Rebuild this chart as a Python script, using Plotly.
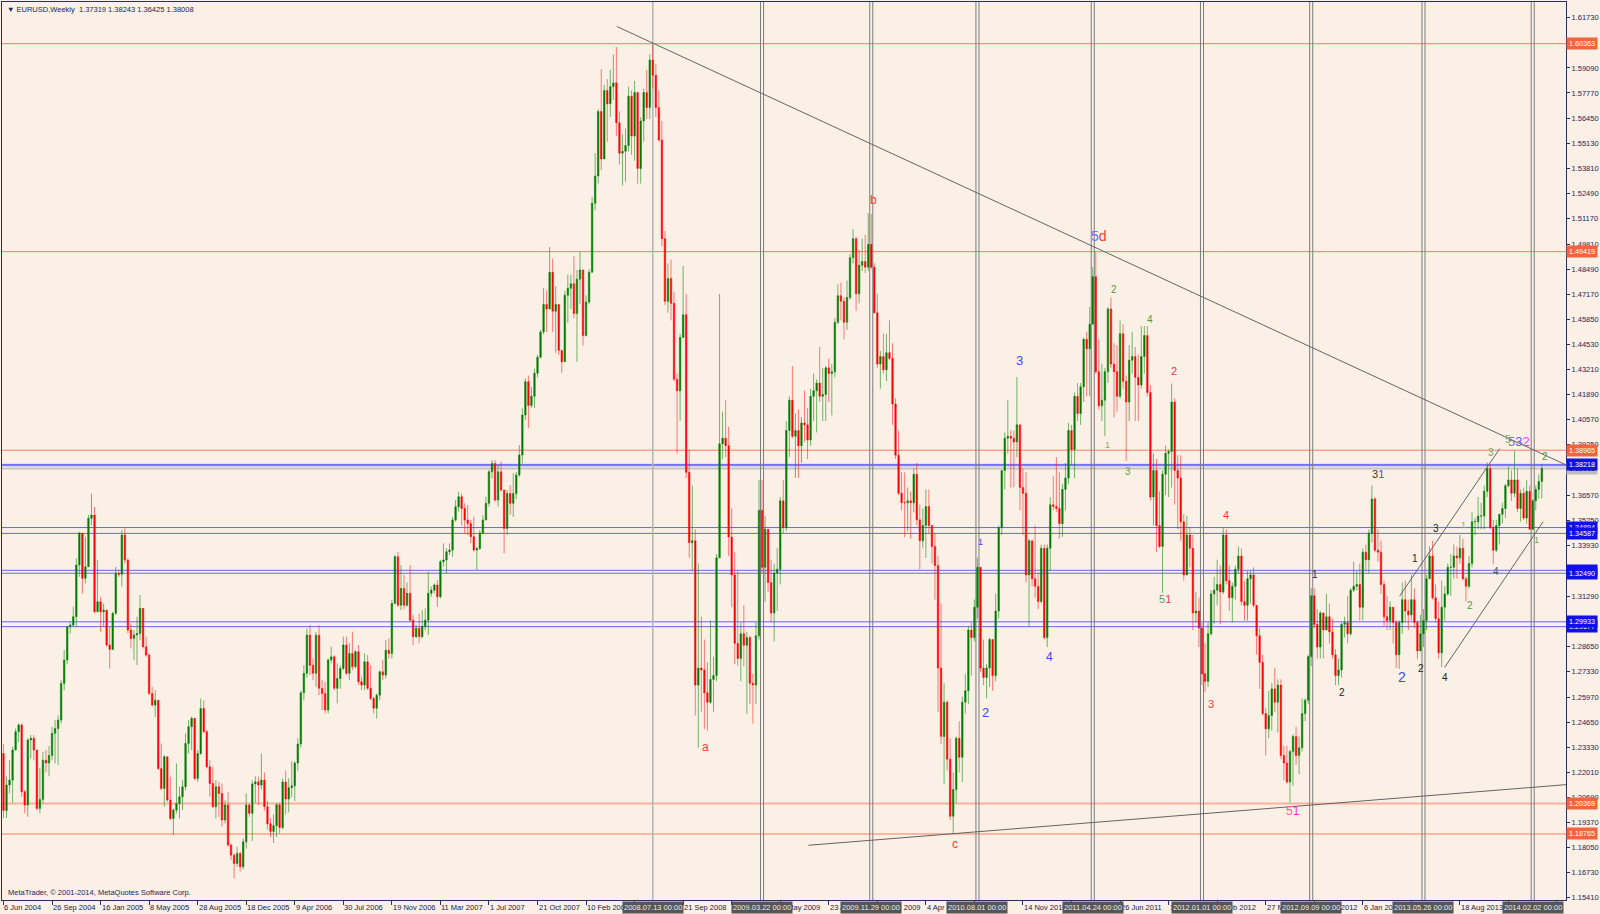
import datetime as dt
import plotly.graph_objects as go

HEADER = "\u25bc EURUSD,Weekly  1.37319 1.38243 1.36425 1.38008"
FOOTER = "MetaTrader, \u00a9 2001-2014, MetaQuotes Software Corp."

first_open = 1.2300

# weekly bars as (close, high, low); each block starts on the Sunday given
y2004_start = "2004-06-06"
y2004 = [
    (1.2000, 1.2350, 1.1960), (1.2134, 1.2178, 1.1960), (1.2160, 1.2265, 1.2090), (1.2318, 1.2336, 1.2040),
    (1.2415, 1.2432, 1.2318), (1.2450, 1.2459, 1.2360), (1.2099, 1.2459, 1.2072), (1.2029, 1.2107, 1.1985),
    (1.2371, 1.2380, 1.1967), (1.2380, 1.2397, 1.2274), (1.2318, 1.2397, 1.2265), (1.2011, 1.2318, 1.2002),
    (1.2058, 1.2222, 1.1985), (1.2265, 1.2309, 1.2037), (1.2250, 1.2320, 1.2200), (1.2290, 1.2340, 1.2180),
    (1.2406, 1.2440, 1.2265), (1.2432, 1.2476, 1.2248), (1.2476, 1.2500, 1.2240), (1.2669, 1.2687, 1.2459),
    (1.2792, 1.2845, 1.2634), (1.2968, 1.2968, 1.2770), (1.2976, 1.2993, 1.2932), (1.3020, 1.3073, 1.2968),
    (1.3292, 1.3327, 1.2968), (1.3459, 1.3468, 1.3230), (1.3222, 1.3450, 1.3143), (1.3283, 1.3441, 1.3195),
    (1.3538, 1.3555, 1.3283), (1.3555, 1.3667, 1.3503),
]
y2005_start = "2005-01-02"
y2005 = [
    (1.3046, 1.3598, 1.3038), (1.3099, 1.3318, 1.3046), (1.3046, 1.3125, 1.2940), (1.3055, 1.3090, 1.2968),
    (1.2871, 1.3038, 1.2862), (1.2848, 1.2968, 1.2747), (1.3038, 1.3046, 1.2845), (1.3248, 1.3283, 1.3029),
    (1.3243, 1.3266, 1.3230), (1.3450, 1.3476, 1.3178), (1.3318, 1.3485, 1.3301), (1.2950, 1.3327, 1.2932),
    (1.2906, 1.2985, 1.2853), (1.2924, 1.2950, 1.2792), (1.2932, 1.3020, 1.2765), (1.3064, 1.3134, 1.2897),
    (1.2862, 1.3064, 1.2853), (1.2818, 1.2915, 1.2809), (1.2616, 1.2827, 1.2607), (1.2555, 1.2651, 1.2546),
    (1.2581, 1.2634, 1.2493), (1.2221, 1.2537, 1.2213), (1.2116, 1.2353, 1.2107), (1.2283, 1.2292, 1.2020),
    (1.2055, 1.2257, 1.2046), (1.1958, 1.2178, 1.1950), (1.2002, 1.2011, 1.1870), (1.2037, 1.2248, 1.1985),
    (1.2072, 1.2125, 1.1958), (1.2125, 1.2160, 1.2002), (1.2353, 1.2406, 1.2107), (1.2441, 1.2476, 1.2300),
    (1.2485, 1.2494, 1.2318), (1.2169, 1.2485, 1.2160), (1.2300, 1.2318, 1.2151), (1.2537, 1.2590, 1.2292),
    (1.2415, 1.2581, 1.2406), (1.2230, 1.2423, 1.2221), (1.2142, 1.2265, 1.2072), (1.2020, 1.2230, 1.2011),
    (1.2125, 1.2160, 1.1958), (1.2090, 1.2151, 1.1967), (1.1950, 1.2142, 1.1915), (1.2029, 1.2055, 1.1932),
    (1.1818, 1.2099, 1.1809), (1.1765, 1.1827, 1.1739), (1.1721, 1.1774, 1.1642), (1.1774, 1.1809, 1.1704),
    (1.1704, 1.1783, 1.1678), (1.1835, 1.1853, 1.1690), (1.2029, 1.2090, 1.1800), (1.1985, 1.2037, 1.1967),
]
y2006_start = "2006-01-01"
y2006 = [
    (1.2140, 1.2160, 1.1840), (1.2151, 1.2180, 1.2040), (1.2134, 1.2178, 1.2030), (1.2160, 1.2300, 1.2110),
    (1.2020, 1.2200, 1.2000), (1.1930, 1.2050, 1.1900), (1.1890, 1.1960, 1.1860), (1.1920, 1.1980, 1.1830),
    (1.2030, 1.2040, 1.1860), (1.1910, 1.2040, 1.1880), (1.2150, 1.2170, 1.1900), (1.2060, 1.2210, 1.1980),
    (1.2120, 1.2170, 1.1990), (1.2130, 1.2260, 1.2070), (1.2250, 1.2260, 1.2050), (1.2350, 1.2380, 1.2210),
    (1.2620, 1.2630, 1.2330), (1.2722, 1.2765, 1.2580), (1.2923, 1.2958, 1.2700), (1.2765, 1.2976, 1.2713),
    (1.2722, 1.2800, 1.2686), (1.2923, 1.2941, 1.2651), (1.2643, 1.2976, 1.2607), (1.2616, 1.2686, 1.2529),
    (1.2529, 1.2678, 1.2511), (1.2792, 1.2800, 1.2511), (1.2809, 1.2862, 1.2774), (1.2643, 1.2818, 1.2634),
    (1.2695, 1.2774, 1.2564), (1.2748, 1.2765, 1.2640), (1.2871, 1.2915, 1.2739), (1.2722, 1.2915, 1.2713),
    (1.2827, 1.2880, 1.2686), (1.2757, 1.2941, 1.2739), (1.2836, 1.2844, 1.2748), (1.2678, 1.2871, 1.2660),
    (1.2660, 1.2704, 1.2634), (1.2783, 1.2827, 1.2634), (1.2643, 1.2818, 1.2634), (1.2590, 1.2765, 1.2581),
    (1.2538, 1.2599, 1.2511), (1.2607, 1.2616, 1.2484), (1.2730, 1.2739, 1.2581), (1.2713, 1.2792, 1.2686),
    (1.2844, 1.2897, 1.2695), (1.2827, 1.2906, 1.2800), (1.3090, 1.3108, 1.2800), (1.3336, 1.3345, 1.3090),
    (1.3081, 1.3362, 1.3072), (1.3169, 1.3292, 1.3055), (1.3081, 1.3240, 1.3060), (1.3143, 1.3200, 1.3072),
    (1.3002, 1.3292, 1.2994),
]
y2007_start = "2007-01-07"
y2007 = [
    (1.2915, 1.3028, 1.2871), (1.2959, 1.2976, 1.2906), (1.2915, 1.3037, 1.2880), (1.2968, 1.3055, 1.2906),
    (1.3002, 1.3064, 1.2950), (1.3143, 1.3257, 1.2923), (1.3160, 1.3178, 1.3125), (1.3187, 1.3196, 1.3143),
    (1.3125, 1.3213, 1.3072), (1.3310, 1.3319, 1.3116), (1.3319, 1.3406, 1.3284), (1.3362, 1.3380, 1.3250),
    (1.3371, 1.3406, 1.3345), (1.3529, 1.3546, 1.3336), (1.3599, 1.3634, 1.3520), (1.3652, 1.3678, 1.3573),
    (1.3590, 1.3669, 1.3500), (1.3529, 1.3617, 1.3459), (1.3511, 1.3608, 1.3450), (1.3441, 1.3529, 1.3406),
    (1.3371, 1.3546, 1.3362), (1.3379, 1.3388, 1.3266), (1.3459, 1.3476, 1.3371), (1.3529, 1.3555, 1.3459),
    (1.3617, 1.3652, 1.3529), (1.3783, 1.3792, 1.3599), (1.3827, 1.3845, 1.3748), (1.3634, 1.3845, 1.3625),
    (1.3783, 1.3818, 1.3599), (1.3687, 1.3836, 1.3678), (1.3485, 1.3687, 1.3353), (1.3669, 1.3687, 1.3450),
    (1.3617, 1.3713, 1.3556), (1.3669, 1.3775, 1.3546), (1.3766, 1.3783, 1.3640), (1.3871, 1.3924, 1.3757),
    (1.4082, 1.4117, 1.3827), (1.4257, 1.4275, 1.4055), (1.4132, 1.4289, 1.4012), (1.4181, 1.4229, 1.4120),
    (1.4302, 1.4326, 1.4120), (1.4386, 1.4398, 1.4280), (1.4519, 1.4530, 1.4380), (1.4664, 1.4749, 1.4507),
    (1.4640, 1.4737, 1.4519), (1.4833, 1.4966, 1.4652), (1.4628, 1.4906, 1.4519), (1.4664, 1.4761, 1.4410),
    (1.4422, 1.4652, 1.4398), (1.4362, 1.4422, 1.4302), (1.4712, 1.4736, 1.4362), (1.4749, 1.4821, 1.4567),
]
y2008_start = "2008-01-06"
y2008 = [
    (1.4773, 1.4821, 1.4640), (1.4616, 1.4918, 1.4592), (1.4797, 1.4845, 1.4362), (1.4845, 1.4942, 1.4667),
    (1.4500, 1.4833, 1.4447), (1.4676, 1.4712, 1.4495), (1.4833, 1.4850, 1.4664), (1.5196, 1.5230, 1.4833),
    (1.5340, 1.5460, 1.5160), (1.5679, 1.5691, 1.5300), (1.5430, 1.5903, 1.5370), (1.5790, 1.5820, 1.5430),
    (1.5720, 1.5850, 1.5520), (1.5810, 1.5900, 1.5650), (1.5830, 1.5980, 1.5740), (1.5620, 1.6019, 1.5550),
    (1.5460, 1.5680, 1.5400), (1.5470, 1.5560, 1.5290), (1.5500, 1.5590, 1.5310), (1.5760, 1.5810, 1.5470),
    (1.5550, 1.5790, 1.5450), (1.5780, 1.5840, 1.5420), (1.5380, 1.5750, 1.5300), (1.5630, 1.5650, 1.5300),
    (1.5780, 1.5800, 1.5520), (1.5700, 1.5900, 1.5640), (1.5950, 1.5980, 1.5640), (1.5870, 1.6038, 1.5800),
    (1.5700, 1.5930, 1.5650), (1.5530, 1.5790, 1.5520), (1.5010, 1.5630, 1.4970), (1.4680, 1.5050, 1.4660),
    (1.4800, 1.4880, 1.4620), (1.4670, 1.4900, 1.4580), (1.4270, 1.4730, 1.4260), (1.4210, 1.4300, 1.3880),
    (1.4490, 1.4510, 1.4050), (1.4610, 1.4867, 1.4530), (1.3780, 1.4720, 1.3750), (1.3410, 1.3900, 1.3330),
    (1.3420, 1.3710, 1.3260), (1.2660, 1.3480, 1.2500), (1.2750, 1.3300, 1.2330), (1.2740, 1.3020, 1.2520),
    (1.2620, 1.2900, 1.2430), (1.2570, 1.2780, 1.2420), (1.2690, 1.3000, 1.2560), (1.2710, 1.2810, 1.2520),
    (1.3330, 1.3350, 1.2680), (1.3930, 1.4719, 1.3330), (1.3960, 1.4100, 1.3850), (1.3920, 1.4160, 1.3860),
]
y2009_start = "2009-01-04"
y2009 = [
    (1.3440, 1.4020, 1.3340), (1.3240, 1.3590, 1.3070), (1.2880, 1.3360, 1.2770), (1.2800, 1.3260, 1.2760),
    (1.2930, 1.2990, 1.2680), (1.2870, 1.3080, 1.2760), (1.2910, 1.2940, 1.2510), (1.2670, 1.2920, 1.2560),
    (1.2660, 1.2720, 1.2457), (1.2920, 1.2990, 1.2560), (1.3580, 1.3740, 1.2900), (1.3280, 1.3740, 1.3250),
    (1.3480, 1.3550, 1.3100), (1.3200, 1.3460, 1.3150), (1.3040, 1.3320, 1.2990), (1.3250, 1.3300, 1.2890),
    (1.3270, 1.3380, 1.3050), (1.3630, 1.3650, 1.3190), (1.3490, 1.3740, 1.3460), (1.4000, 1.4050, 1.3470),
    (1.4160, 1.4180, 1.3860), (1.3970, 1.4340, 1.3960), (1.4000, 1.4090, 1.3750), (1.3920, 1.4110, 1.3750),
    (1.4040, 1.4070, 1.3830), (1.4030, 1.4210, 1.3940), (1.3950, 1.4120, 1.3850), (1.4180, 1.4220, 1.3920),
    (1.4210, 1.4300, 1.4050), (1.4250, 1.4270, 1.3990), (1.4180, 1.4440, 1.4150), (1.4190, 1.4330, 1.4050),
    (1.4330, 1.4340, 1.4050), (1.4300, 1.4380, 1.4150), (1.4310, 1.4350, 1.4080), (1.4570, 1.4590, 1.4280),
    (1.4710, 1.4770, 1.4560), (1.4680, 1.4780, 1.4580), (1.4570, 1.4700, 1.4480), (1.4700, 1.4790, 1.4530),
    (1.4910, 1.4930, 1.4690), (1.5010, 1.5060, 1.4880), (1.4720, 1.5020, 1.4630), (1.4870, 1.4950, 1.4670),
    (1.4890, 1.5010, 1.4840), (1.4860, 1.5030, 1.4830), (1.4980, 1.5144, 1.4840), (1.4860, 1.5140, 1.4850),
    (1.4620, 1.4880, 1.4620), (1.4350, 1.4720, 1.4330), (1.4390, 1.4420, 1.4220), (1.4320, 1.4510, 1.4300),
]
y2010_start = "2010-01-03"
y2010 = [
    (1.4410, 1.4510, 1.4260), (1.4380, 1.4580, 1.4370), (1.4140, 1.4460, 1.4030), (1.3870, 1.4170, 1.3850),
    (1.3670, 1.4000, 1.3660), (1.3620, 1.3780, 1.3580), (1.3620, 1.3780, 1.3440), (1.3630, 1.3700, 1.3470),
    (1.3620, 1.3680, 1.3430), (1.3770, 1.3800, 1.3570), (1.3530, 1.3830, 1.3500), (1.3420, 1.3610, 1.3270),
    (1.3500, 1.3590, 1.3380), (1.3600, 1.3690, 1.3330), (1.3500, 1.3690, 1.3460), (1.3390, 1.3500, 1.3300),
    (1.3290, 1.3460, 1.3110), (1.2750, 1.3340, 1.2520), (1.2390, 1.3090, 1.2350), (1.2570, 1.2670, 1.2140),
    (1.2270, 1.2580, 1.2210), (1.1970, 1.2380, 1.1950), (1.2110, 1.2200, 1.1876), (1.2380, 1.2390, 1.2040),
    (1.2280, 1.2470, 1.2200), (1.2570, 1.2600, 1.2150), (1.2630, 1.2720, 1.2510), (1.2950, 1.2970, 1.2560),
    (1.2910, 1.2990, 1.2710), (1.3070, 1.3110, 1.2890), (1.3280, 1.3330, 1.3010), (1.2750, 1.3250, 1.2730),
    (1.2700, 1.2900, 1.2660), (1.2750, 1.2770, 1.2590), (1.2900, 1.2910, 1.2650), (1.2710, 1.2820, 1.2630),
    (1.3050, 1.3140, 1.2680), (1.3490, 1.3500, 1.3010), (1.3790, 1.3790, 1.3450), (1.3960, 1.3990, 1.3690),
    (1.3970, 1.4160, 1.3880), (1.3960, 1.4000, 1.3700), (1.3940, 1.4000, 1.3700), (1.4030, 1.4282, 1.3860),
    (1.3700, 1.4000, 1.3580), (1.3670, 1.3800, 1.3450), (1.3240, 1.3780, 1.3200), (1.3420, 1.3430, 1.2970),
    (1.3220, 1.3400, 1.3180), (1.3180, 1.3500, 1.3120), (1.3100, 1.3250, 1.3060), (1.3380, 1.3400, 1.3090),
]
y2011_start = "2011-01-02"
y2011 = [
    (1.2910, 1.3400, 1.2900), (1.3380, 1.3400, 1.2860), (1.3610, 1.3650, 1.3260), (1.3600, 1.3760, 1.3580),
    (1.3590, 1.3860, 1.3570), (1.3510, 1.3780, 1.3430), (1.3690, 1.3720, 1.3440), (1.3750, 1.3830, 1.3580),
    (1.4000, 1.4040, 1.3720), (1.3900, 1.4030, 1.3820), (1.4180, 1.4200, 1.3750), (1.4090, 1.4250, 1.4050),
    (1.4230, 1.4250, 1.4030), (1.4480, 1.4490, 1.4150), (1.4430, 1.4520, 1.4180), (1.4560, 1.4650, 1.4180),
    (1.4810, 1.4860, 1.4560), (1.4310, 1.4940, 1.4300), (1.4130, 1.4480, 1.4110), (1.4160, 1.4350, 1.4050),
    (1.4310, 1.4330, 1.3970), (1.4640, 1.4650, 1.4250), (1.4350, 1.4700, 1.4330), (1.4310, 1.4460, 1.4070),
    (1.4180, 1.4450, 1.4100), (1.4510, 1.4580, 1.4170), (1.4260, 1.4560, 1.4220), (1.4150, 1.4290, 1.3840),
    (1.4370, 1.4450, 1.4050), (1.4390, 1.4520, 1.4300), (1.4280, 1.4440, 1.4050), (1.4240, 1.4400, 1.4050),
    (1.4390, 1.4550, 1.4220), (1.4500, 1.4550, 1.4300), (1.4200, 1.4550, 1.4180), (1.3650, 1.4240, 1.3630),
    (1.3790, 1.3880, 1.3500), (1.3500, 1.3850, 1.3360), (1.3390, 1.3680, 1.3380), (1.3770, 1.3790, 1.3146),
    (1.3880, 1.3920, 1.3660), (1.3890, 1.3900, 1.3650), (1.4150, 1.4247, 1.3700), (1.3790, 1.4170, 1.3610),
    (1.3750, 1.3870, 1.3480), (1.3520, 1.3870, 1.3420), (1.3240, 1.3560, 1.3210), (1.3450, 1.3550, 1.3240),
    (1.3380, 1.3490, 1.3280), (1.3040, 1.3450, 1.2950), (1.3050, 1.3150, 1.2990), (1.2960, 1.3120, 1.2860),
]
y2012_start = "2012-01-01"
y2012 = [
    (1.2720, 1.2990, 1.2660), (1.2680, 1.2880, 1.2624), (1.2930, 1.2990, 1.2650), (1.3140, 1.3160, 1.2920),
    (1.3160, 1.3230, 1.2980), (1.3190, 1.3320, 1.3080), (1.3150, 1.3290, 1.2980), (1.3450, 1.3486, 1.3140),
    (1.3210, 1.3480, 1.3190), (1.3120, 1.3290, 1.3050), (1.3180, 1.3200, 1.2990), (1.3270, 1.3290, 1.3110),
    (1.3340, 1.3390, 1.3250), (1.3100, 1.3380, 1.3080), (1.3080, 1.3210, 1.3000), (1.3220, 1.3260, 1.3000),
    (1.3240, 1.3260, 1.3090), (1.3080, 1.3280, 1.3070), (1.2920, 1.3060, 1.2820), (1.2780, 1.2960, 1.2640),
    (1.2510, 1.2820, 1.2500), (1.2430, 1.2540, 1.2290), (1.2500, 1.2630, 1.2380), (1.2640, 1.2670, 1.2420),
    (1.2570, 1.2750, 1.2520), (1.2660, 1.2690, 1.2410), (1.2290, 1.2690, 1.2270), (1.2250, 1.2340, 1.2160),
    (1.2150, 1.2340, 1.2140), (1.2310, 1.2320, 1.2042), (1.2390, 1.2400, 1.2130), (1.2290, 1.2440, 1.2240),
    (1.2330, 1.2390, 1.2190), (1.2510, 1.2590, 1.2310), (1.2580, 1.2590, 1.2470), (1.2810, 1.2820, 1.2560),
    (1.3130, 1.3170, 1.2760), (1.2980, 1.3170, 1.2960), (1.2860, 1.3060, 1.2800), (1.3040, 1.3050, 1.2800),
    (1.2950, 1.3030, 1.2800), (1.3020, 1.3140, 1.2950), (1.2940, 1.3090, 1.2880), (1.2820, 1.3010, 1.2800),
    (1.2710, 1.2850, 1.2660), (1.2740, 1.2800, 1.2660), (1.2980, 1.2990, 1.2700), (1.2990, 1.3020, 1.2910),
    (1.2930, 1.3130, 1.2880), (1.3160, 1.3170, 1.2920), (1.3180, 1.3310, 1.3150), (1.3190, 1.3260, 1.3160),
    (1.3070, 1.3300, 1.3000),
]
y2013_start = "2013-01-06"
y2013 = [
    (1.3360, 1.3380, 1.3000), (1.3320, 1.3400, 1.3260), (1.3460, 1.3480, 1.3250), (1.3640, 1.3711, 1.3410),
    (1.3370, 1.3650, 1.3360), (1.3360, 1.3480, 1.3310), (1.3190, 1.3420, 1.3140), (1.3020, 1.3210, 1.2970),
    (1.3000, 1.3130, 1.2950), (1.3070, 1.3100, 1.2950), (1.2990, 1.3030, 1.2880), (1.2820, 1.3000, 1.2750),
    (1.2990, 1.3000, 1.2745), (1.3110, 1.3200, 1.2930), (1.3050, 1.3210, 1.2990), (1.3030, 1.3110, 1.2950),
    (1.3110, 1.3240, 1.3000), (1.2990, 1.3170, 1.2960), (1.2840, 1.3000, 1.2796), (1.2930, 1.3030, 1.2840),
    (1.3000, 1.3060, 1.2860), (1.3220, 1.3240, 1.2950), (1.3340, 1.3390, 1.3230), (1.3120, 1.3420, 1.3110),
    (1.3010, 1.3190, 1.2990), (1.2830, 1.3100, 1.2800), (1.3070, 1.3210, 1.2755), (1.3140, 1.3180, 1.3000),
    (1.3280, 1.3300, 1.3130), (1.3280, 1.3350, 1.3130), (1.3340, 1.3400, 1.3220), (1.3330, 1.3390, 1.3220),
    (1.3380, 1.3450, 1.3300), (1.3220, 1.3430, 1.3210), (1.3180, 1.3230, 1.3100), (1.3300, 1.3340, 1.3170),
    (1.3520, 1.3570, 1.3280), (1.3520, 1.3540, 1.3450), (1.3550, 1.3650, 1.3480), (1.3550, 1.3620, 1.3480),
    (1.3680, 1.3710, 1.3480), (1.3800, 1.3832, 1.3650), (1.3490, 1.3820, 1.3480), (1.3370, 1.3530, 1.3296),
    (1.3500, 1.3530, 1.3360), (1.3560, 1.3560, 1.3400), (1.3590, 1.3620, 1.3510), (1.3710, 1.3720, 1.3540),
    (1.3740, 1.3810, 1.3700), (1.3670, 1.3790, 1.3630), (1.3740, 1.3893, 1.3650), (1.3590, 1.3800, 1.3570),
]
y2014_start = "2014-01-05"
y2014 = [
    (1.3670, 1.3690, 1.3520), (1.3540, 1.3700, 1.3530), (1.3680, 1.3740, 1.3510), (1.3480, 1.3710, 1.3480),
    (1.3630, 1.3640, 1.3477), (1.3690, 1.3710, 1.3580), (1.37319, 1.3770, 1.3640), (1.38008, 1.38243, 1.36425),
]

# horizontal price levels
red_levels = [1.60363, 1.49419, 1.38965, 1.20369, 1.18765]
blue_levels = [1.38218, 1.38150, 1.34894, 1.34587, 1.32644, 1.32490, 1.29933, 1.29677]
bid_level = 1.38008

# vertical period markers
single_vlines = ["2008-07-13"]
double_vlines = ["2009-03-22", "2009-11-29", "2010-08-01", "2011-04-24", "2012-01-01",
                 "2012-09-09", "2013-05-26", "2014-02-02"]

# time labels that sit completely under a marker box
covered_time_labels = ["2008-06-01", "2009-01-11", "2010-07-25", "2011-03-06",
                       "2013-04-28", "2013-12-08", "2014-03-30"]

# trend lines: (date0, price0, date1, price1)
trend_lines = [
    ("2008-04-21", 1.6127, "2014-04-20", 1.3819),
    ("2009-07-07", 1.1817, "2014-04-20", 1.2136),
    ("2013-04-01", 1.3129, "2013-11-18", 1.3905),
    ("2013-07-14", 1.2754, "2014-02-26", 1.3520),
]

RED = "#f03c3c"
BLUE = "#4646ee"
GREEN = "#4f9a3f"
OLIVE = "#9aa83a"
BLACK = "#222222"

def two(a, ca, b, cb):
    return f"<span style='color:{ca}'>{a}</span><span style='color:{cb}'>{b}</span>"

# wave labels: (date, price, text, color, size)
wave_labels = [
    ("2008-11-12", 1.2336, "a", RED, 12),
    ("2009-12-04", 1.5213, "b", RED, 12),
    ("2010-06-11", 1.1823, "c", RED, 12),
    ("2010-08-07", 1.3416, "1", BLUE, 9),
    ("2010-08-19", 1.2518, "2", BLUE, 13),
    ("2010-11-05", 1.4368, "3", BLUE, 13),
    ("2011-01-15", 1.2809, "4", BLUE, 12),
    ("2011-05-08", 1.5023, two("5", "#7272ff", "d", RED), RED, 14),
    ("2011-06-11", 1.4744, "2", GREEN, 10),
    ("2011-09-03", 1.4584, "4", GREEN, 10),
    ("2011-05-28", 1.3925, "1", OLIVE, 9),
    ("2011-07-15", 1.3783, "3", "#6a9a5a", 10),
    ("2011-10-29", 1.4315, "2", RED, 11),
    ("2011-10-08", 1.3112, two("5", "#6a9a5a", "1", RED), RED, 11),
    ("2012-02-26", 1.3557, "4", RED, 11),
    ("2012-01-22", 1.2562, "3", RED, 11),
    ("2012-07-30", 1.2000, two("5", "#ff5fa0", "1", "#ff30d0"), "#ff30d0", 12),
    ("2012-09-18", 1.3243, "1", "#20205a", 10),
    ("2012-11-18", 1.2623, "2", BLACK, 10),
    ("2013-02-11", 1.3771, two("3", "#333333", "1", BLUE), BLUE, 11),
    ("2013-04-07", 1.2702, "2", BLUE, 14),
    ("2013-05-06", 1.3325, "1", BLACK, 10),
    ("2013-05-20", 1.2746, "2", BLACK, 10),
    ("2013-06-25", 1.3487, "3", BLACK, 10),
    ("2013-07-14", 1.2702, "4", BLACK, 10),
    ("2013-08-26", 1.3504, "1", OLIVE, 9),
    ("2013-09-10", 1.3077, "2", GREEN, 10),
    ("2013-10-29", 1.3884, "3", "#70a860", 10),
    ("2013-11-10", 1.3257, "4", "#3a5a78", 10),
    ("2013-12-08", 1.3952, "5", "#70b070", 10),
    ("2014-01-01", 1.3945, "<span style='color:#808080'>5</span><span style='color:#5a5aff'>3</span>"
                           "<span style='color:#ff33ff'>2</span>", BLUE, 13),
    ("2014-02-11", 1.3426, "1", "#60a060", 9),
    ("2014-03-02", 1.3866, "2", GREEN, 10),
]

# price-scale labels that are visible (the rest sit under the level boxes)
y_ticks = [1.15410, 1.16730, 1.18050, 1.19370, 1.20690, 1.22010, 1.23330, 1.24650, 1.25970,
           1.27330, 1.28650, 1.31290, 1.33930, 1.35250, 1.36570,
           1.39250, 1.40570, 1.41890, 1.43210, 1.44530, 1.45850, 1.47170, 1.48490, 1.49810,
           1.51170, 1.52490, 1.53810, 1.55130, 1.56450, 1.57770, 1.59090, 1.61730]

# ---------------------------------------------------------------------------
segments = [(y2004_start, y2004), (y2005_start, y2005), (y2006_start, y2006), (y2007_start, y2007),
            (y2008_start, y2008), (y2009_start, y2009), (y2010_start, y2010), (y2011_start, y2011),
            (y2012_start, y2012), (y2013_start, y2013), (y2014_start, y2014)]

dates, closes, highs, lows = [], [], [], []
for start, rows in segments:
    d0 = dt.datetime.fromisoformat(start)
    for i, (c, h, l) in enumerate(rows):
        dates.append(d0 + dt.timedelta(weeks=i))
        closes.append(c)
        highs.append(h)
        lows.append(l)
opens = [first_open] + closes[:-1]
highs = [max(h, o, c) for h, o, c in zip(highs, opens, closes)]
lows = [min(l, o, c) for l, o, c in zip(lows, opens, closes)]

LINEN = "#faf0e6"
AXIS = "#2c2c6c"
TXT = "#24245e"
FONT = "Liberation Sans, Arial, sans-serif"

fig = go.Figure()
fig.add_trace(go.Candlestick(
    x=dates, open=opens, high=highs, low=lows, close=closes,
    increasing=dict(line=dict(color="rgba(0,128,0,0.55)", width=1), fillcolor="#007a00"),
    decreasing=dict(line=dict(color="rgba(255,0,0,0.5)", width=1), fillcolor="#ff0000"),
    whiskerwidth=0, hoverinfo="skip", showlegend=False,
))

shapes = []
for lvl in red_levels:
    thick = lvl == 1.20369
    shapes.append(dict(type="line", xref="paper", x0=0, x1=1, yref="y", y0=lvl, y1=lvl, layer="below",
                       line=dict(color="rgba(255,99,71,0.45)" if thick else "#ff7b62", width=2 if thick else 1)))
for lvl in blue_levels:
    shapes.append(dict(type="line", xref="paper", x0=0, x1=1, yref="y", y0=lvl, y1=lvl, layer="below",
                       line=dict(color="#6464f4", width=1)))
shapes.append(dict(type="line", xref="paper", x0=0, x1=1, yref="y", y0=bid_level, y1=bid_level, layer="below",
                   line=dict(color="#c4c4c4", width=2)))
for d in single_vlines:
    shapes.append(dict(type="line", xref="x", x0=d, x1=d, yref="paper", y0=0, y1=1, layer="below",
                       line=dict(color="#b4b4b4", width=1.5)))
for d in double_vlines:
    mid = dt.datetime.fromisoformat(d)
    for off in (-3.5, 3.5):
        x = mid + dt.timedelta(days=off)
        shapes.append(dict(type="line", xref="x", x0=x, x1=x, yref="paper", y0=0, y1=1, layer="below",
                           line=dict(color="#7c7c7c", width=1)))
for d0, p0, d1, p1 in trend_lines:
    shapes.append(dict(type="line", xref="x", yref="y", x0=d0, y0=p0, x1=d1, y1=p1,
                       line=dict(color="#646464", width=1)))

# axis range: 3.04 px per weekly bar, first bar 1.5 px inside the plot
base = dates[0]
x_lo = base - dt.timedelta(weeks=0.49)
x_hi = base + dt.timedelta(weeks=514.97)
label_dates = []
d = base
while d < x_hi:
    label_dates.append(d)
    d += dt.timedelta(weeks=16)
covered = {dt.datetime.fromisoformat(s) for s in covered_time_labels}

ann = []
ann.append(dict(xref="paper", yref="paper", x=0, y=1, xanchor="left", yanchor="top", xshift=3, yshift=-1,
                text=HEADER, showarrow=False, font=dict(family=FONT, size=7.5, color=TXT)))
ann.append(dict(xref="paper", yref="paper", x=0, y=0, xanchor="left", yanchor="bottom", xshift=4, yshift=1,
                text=FOOTER, showarrow=False, font=dict(family=FONT, size=7.5, color=TXT)))
for d in label_dates:
    if d in covered:
        continue
    ann.append(dict(xref="x", yref="paper", x=d, y=0, xanchor="left", yanchor="top", yshift=-1, xshift=-1,
                    text=f"{d.day} {d.strftime('%b %Y')}", showarrow=False,
                    font=dict(family=FONT, size=7.5, color="#1a1a4a")))
for d in single_vlines + double_vlines:
    ann.append(dict(xref="x", yref="paper", x=d, y=0, xanchor="center", yanchor="top", yshift=-1,
                    text=d.replace("-", ".") + " 00:00", showarrow=False, bgcolor="#555555", borderpad=1,
                    font=dict(family=FONT, size=7.5, color="#eeeeee")))
for d, p, t, c, s in wave_labels:
    ann.append(dict(xref="x", yref="y", x=d, y=p, text=t, showarrow=False,
                    font=dict(family=FONT, size=s, color=c)))

# price labels on the right axis, hidden ones first
hidden = [(bid_level, "#bcbcbc", "#000000"), (1.32644, "#1010e8", "#ffffff"), (1.29677, "#1010e8", "#ffffff")]
shown = [(lvl, "#f4623e", "#ffffff") for lvl in red_levels] + \
        [(lvl, "#1010e8", "#ffffff") for lvl in (1.38218, 1.34894, 1.34587, 1.32490, 1.29933)]
for lvl, bg, fg in hidden + shown:
    ann.append(dict(xref="paper", yref="y", x=1, y=lvl, xanchor="left", yanchor="middle", xshift=0,
                    text=f"{lvl:.5f}", showarrow=False, bgcolor=bg, borderpad=1, width=28, align="center",
                    font=dict(family=FONT, size=7.2, color=fg)))

fig.update_layout(
    width=1600, height=914,
    margin=dict(l=1, r=32, t=2, b=14),
    paper_bgcolor=LINEN, plot_bgcolor=LINEN,
    showlegend=False, shapes=shapes, annotations=ann,
    xaxis=dict(type="date", range=[x_lo, x_hi], rangeslider=dict(visible=False),
               showgrid=False, zeroline=False, showline=True, mirror=True, linecolor=AXIS, linewidth=1,
               ticks="outside", ticklen=4, tickcolor=AXIS, tickvals=label_dates, showticklabels=False,
               fixedrange=True),
    yaxis=dict(side="right", range=[1.15289, 1.62558], showgrid=False, zeroline=False,
               showline=True, mirror=True, linecolor=AXIS, linewidth=1,
               ticks="outside", ticklen=3, tickcolor=AXIS,
               tickvals=y_ticks, ticktext=[f"{v:.5f}" for v in y_ticks],
               tickfont=dict(family=FONT, size=7.5, color=TXT), fixedrange=True),
)

fig.write_html("out.html", config={"displayModeBar": False},
               post_script="document.body.style.margin='0';document.body.style.overflow='hidden';")
